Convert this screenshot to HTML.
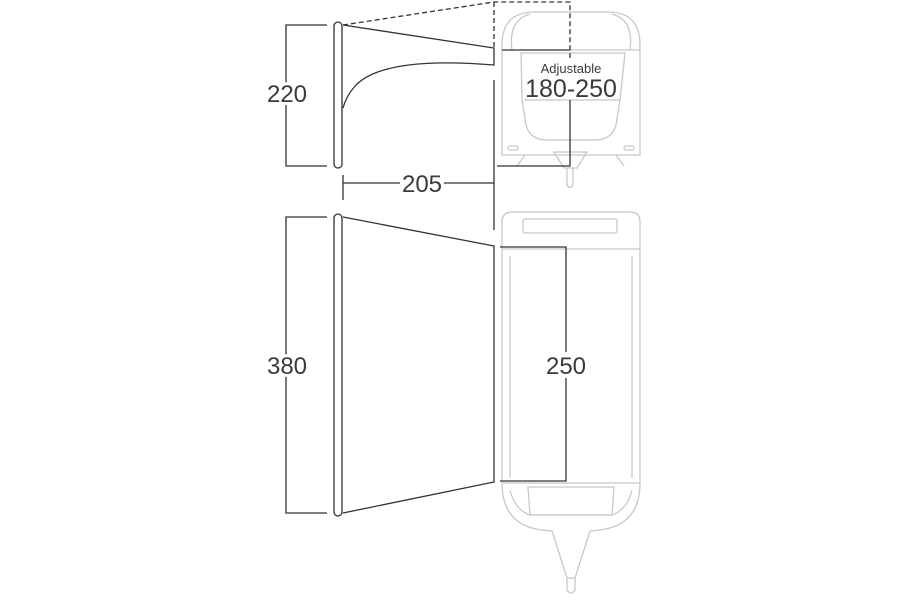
<!DOCTYPE html>
<html><head><style>html,body{margin:0;padding:0;background:#fff}svg{display:block}</style></head><body>
<svg width="900" height="600" viewBox="0 0 900 600" xmlns="http://www.w3.org/2000/svg" font-family="Liberation Sans, sans-serif">
<!-- caravan front (light) -->
<g fill="none" stroke="#c8c8c8" stroke-width="1.3">
<path d="M502 155 L502 45 Q502 12 535 12 L608 12 Q640 12 640 45 L640 155 Z"/>
<path d="M512 50 Q508 20 530 14"/><path d="M630 50 Q634 20 612 14"/>
<line x1="570" y1="50" x2="640" y2="50"/>
<path d="M521 53 L625 53 L620 100 L616 125 Q612 140 595 140 L547 140 Q530 140 526 125 L522 100 Z"/>
<line x1="524" y1="100" x2="620" y2="100"/>
<rect x="508" y="146" width="10" height="4" rx="2"/><rect x="624" y="146" width="10" height="4" rx="2"/>
<path d="M525 155 L517 166 M616 155 L624 166"/>
<path d="M554 152 L587 152 L577 168 L564 168 Z"/>
<path d="M567 168 L567 185 Q570 190 573 185 L573 168"/>
</g>
<!-- caravan top view (light) -->
<g fill="none" stroke="#c8c8c8" stroke-width="1.3">
<path d="M502 483 L502 222 Q502 212 512 212 L630 212 Q640 212 640 222 L640 483 Q640 525 600 530 L590 531 L575 578 L567 578 L552 531 L542 530 Q502 525 502 483 Z"/>
<rect x="523" y="219" width="94" height="14" rx="2"/>
<line x1="502" y1="249" x2="640" y2="249"/>
<line x1="510" y1="256" x2="510" y2="478"/><line x1="632" y1="256" x2="632" y2="478"/>
<line x1="502" y1="483" x2="640" y2="483"/>
<path d="M510 490 Q515 510 530 515 L612 515 Q627 510 632 490"/>
<path d="M528 487 L614 487 L612 515 L530 515 Z"/>
<path d="M567 578 L567 590 Q571 596 575 590 L575 578"/>
</g>
<!-- dark lines -->
<g fill="none" stroke="#333" stroke-width="1.3">
<path d="M327 25 L286 25 L286 166 L327 166"/>
<rect x="334" y="22" width="8" height="146" rx="4"/>
<path d="M343 25 L494 48 L494 65 Q385 56 356 85 Q346 96 343 108"/>
<path d="M343 25 L494 2 L570 2 L570 58 M494 2 L494 48" stroke-dasharray="5,3"/>
<path d="M502 50 L570 50"/>
<path d="M494 80 L494 230"/>
<path d="M570 100 L570 166 L497 166"/>
<path d="M343 175 L343 200 M343 183 L400 183 M444 183 L494 183"/>
<path d="M327 217 L286 217 L286 513 L327 513"/>
<rect x="334" y="214" width="8" height="302" rx="4"/>
<path d="M343 217 L494 246 L494 482 L343 513"/>
<path d="M500 247 L566 247 L566 352 M566 378 L566 481 L500 481"/>
</g>
<g fill="#3a3a3a" text-anchor="middle">
<text x="287" y="102" font-size="24" stroke="#fff" stroke-width="6" paint-order="stroke">220</text>
<text x="287" y="374" font-size="24" stroke="#fff" stroke-width="6" paint-order="stroke">380</text>
<text x="422" y="192" font-size="24">205</text>
<text x="566" y="374" font-size="24" stroke="#fff" stroke-width="6" paint-order="stroke">250</text>
<text x="571" y="73" font-size="13">Adjustable</text>
<text x="571" y="97" font-size="25">180-250</text>
</g>
</svg>
</body></html>
